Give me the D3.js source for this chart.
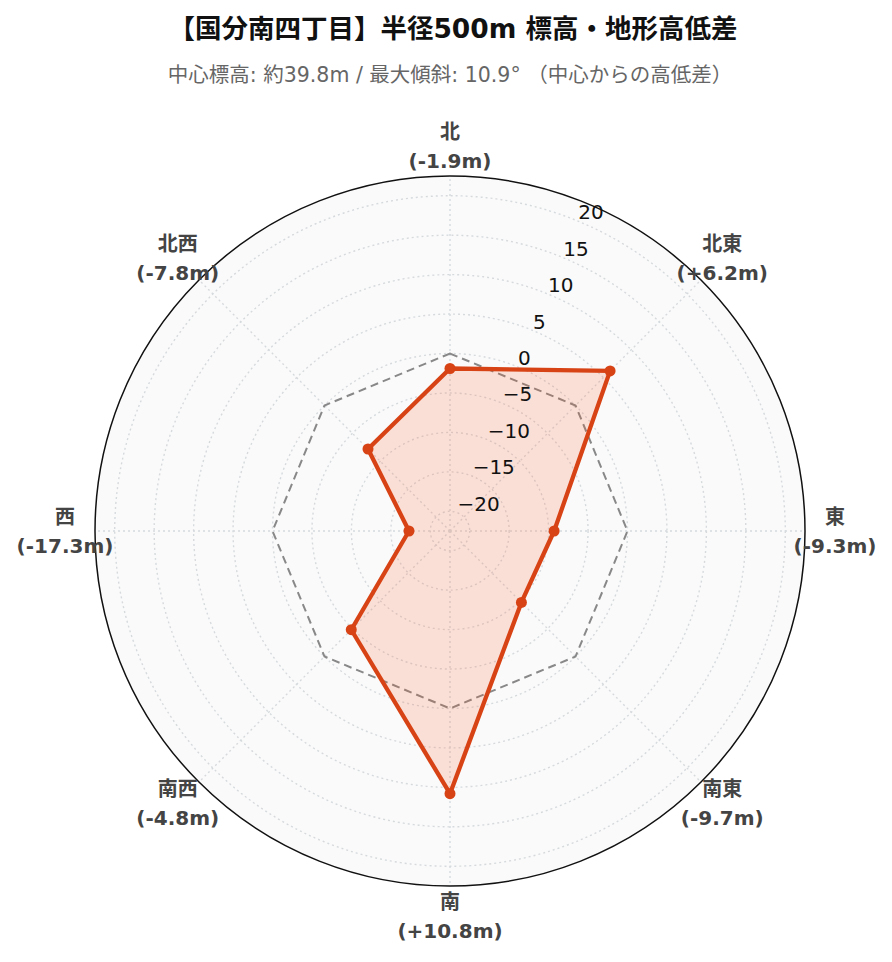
<!DOCTYPE html>
<html>
<head>
<meta charset="utf-8">
<script src="https://cdn.jsdelivr.net/npm/d3@7"></script>
<style>
  body { margin: 0; background: #fff; }
  svg { display: block; }
</style>
</head>
<body>
<div id="chart"></div>
<script>
// 方位ごとの高低差（中心からの差、m）
const directions = ["北", "北東", "東", "南東", "南", "南西", "西", "北西"];
const elevDiffs = [-1.9, 6.2, -9.3, -9.7, 10.8, -4.8, -17.3, -7.8];
const zeroLine = [0, 0, 0, 0, 0, 0, 0, 0];

// 半径軸の目盛り
const radialTicks = [-20, -15, -10, -5, 0, 5, 10, 15, 20];
const radialTickLabels = ["\u221220", "\u221215", "\u221210", "\u22125", "0", "5", "10", "15", "20"];
const radialDomain = [-22.5, 22.5];

const titleText = "【国分南四丁目】半径500m 標高・地形高低差";
const subtitleText = "中心標高: 約39.8m / 最大傾斜: 10.9° （中心からの高低差）";

function fmtDiff(v) {
  const sign = v > 0 ? "+" : "";
  return "(" + sign + v.toFixed(1) + "m)";
}

function draw_chart(dom_id) {
  const width = 892;
  const height = 962;
  const cx = 450;
  const cy = 531;
  const outerR = 355;
  const font = "'DejaVu Sans', 'Noto Sans CJK JP', sans-serif";

  const svg = d3.select(dom_id)
    .append("svg")
    .attr("width", width)
    .attr("height", height);

  // タイトル
  svg.append("text")
    .attr("x", 453)
    .attr("y", 28)
    .attr("text-anchor", "middle")
    .attr("dominant-baseline", "central")
    .attr("font-family", font)
    .attr("font-weight", "bold")
    .attr("font-size", 26.5)
    .attr("fill", "#111")
    .text(titleText);

  svg.append("text")
    .attr("x", 450)
    .attr("y", 75)
    .attr("text-anchor", "middle")
    .attr("dominant-baseline", "central")
    .attr("font-family", font)
    .attr("font-size", 20.5)
    .attr("fill", "#666")
    .text(subtitleText);

  const r = d3.scaleLinear()
    .domain(radialDomain)
    .range([0, outerR]);

  // 方位角（北から時計回り）
  const angle = d3.scaleLinear()
    .domain([0, directions.length])
    .range([0, 2 * Math.PI]);

  const g = svg.append("g")
    .attr("transform", `translate(${cx},${cy})`);

  // 背景
  g.append("circle")
    .attr("r", outerR)
    .attr("fill", "#fafafa");

  // グリッド（同心円）
  g.append("g")
    .selectAll("circle")
    .data(radialTicks)
    .enter()
    .append("circle")
    .attr("r", d => r(d))
    .attr("fill", "none")
    .attr("stroke", "#d6dadd")
    .attr("stroke-width", 1.4)
    .attr("stroke-dasharray", "2,3");

  // グリッド（放射線）
  g.append("g")
    .selectAll("line")
    .data(directions)
    .enter()
    .append("line")
    .attr("x1", 0)
    .attr("y1", 0)
    .attr("x2", (d, i) => d3.pointRadial(angle(i), outerR)[0])
    .attr("y2", (d, i) => d3.pointRadial(angle(i), outerR)[1])
    .attr("stroke", "#d6dadd")
    .attr("stroke-width", 1.4)
    .attr("stroke-dasharray", "2,3");

  // 外周
  g.append("circle")
    .attr("r", outerR)
    .attr("fill", "none")
    .attr("stroke", "#111")
    .attr("stroke-width", 1.5);

  const radialLine = d3.lineRadial()
    .angle((d, i) => angle(i))
    .radius(d => r(d))
    .curve(d3.curveLinearClosed);

  // 高低差0の基準線
  g.append("path")
    .attr("d", radialLine(zeroLine))
    .attr("fill", "none")
    .attr("stroke", "#888")
    .attr("stroke-width", 2)
    .attr("stroke-dasharray", "8,5");

  // 高低差のポリゴン
  g.append("path")
    .attr("d", radialLine(elevDiffs))
    .attr("fill", "rgba(255,87,34,0.16)")
    .attr("stroke", "#d84315")
    .attr("stroke-width", 4.3)
    .attr("stroke-linejoin", "round");

  g.append("g")
    .selectAll("circle")
    .data(elevDiffs)
    .enter()
    .append("circle")
    .attr("cx", (d, i) => d3.pointRadial(angle(i), r(d))[0])
    .attr("cy", (d, i) => d3.pointRadial(angle(i), r(d))[1])
    .attr("r", 5.5)
    .attr("fill", "#d84315");

  // 半径軸の目盛りラベル（北から22.5°の方向）
  const tickAngle = Math.PI / 8;
  g.append("g")
    .selectAll("text")
    .data(radialTicks)
    .enter()
    .append("text")
    .attr("x", d => d3.pointRadial(tickAngle, r(d))[0])
    .attr("y", d => d3.pointRadial(tickAngle, r(d))[1] - 9)
    .attr("text-anchor", "start")
    .attr("dominant-baseline", "central")
    .attr("font-family", font)
    .attr("font-size", 20)
    .attr("fill", "#111")
    .text((d, i) => radialTickLabels[i]);

  // 方位ラベル
  const labelR = 385;
  const labels = g.append("g")
    .selectAll("g")
    .data(directions)
    .enter()
    .append("g")
    .attr("transform", (d, i) => {
      const p = d3.pointRadial(angle(i), labelR);
      return `translate(${p[0]},${p[1]})`;
    })
    .attr("font-family", font)
    .attr("font-weight", "bold")
    .attr("font-size", 20)
    .attr("fill", "#444")
    .attr("text-anchor", "middle");

  labels.append("text")
    .attr("y", -14.5)
    .attr("dominant-baseline", "central")
    .text(d => d);

  labels.append("text")
    .attr("y", 14.5)
    .attr("dominant-baseline", "central")
    .text((d, i) => fmtDiff(elevDiffs[i]));
}

draw_chart("#chart");
</script>
</body>
</html>
